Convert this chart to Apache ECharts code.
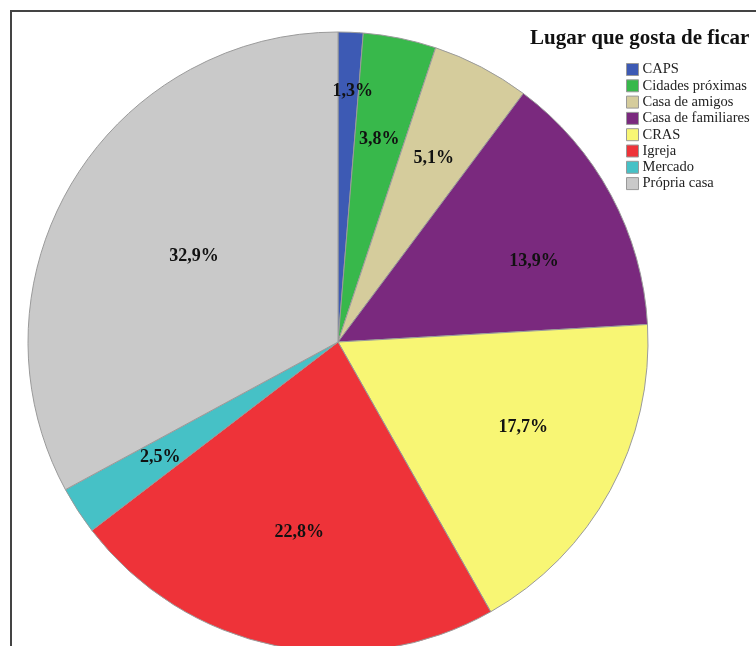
<!DOCTYPE html>
<html lang="pt">
<head>
    <meta charset="UTF-8">
    <title>Lugar que gosta de ficar</title>
</head>
<body style="margin:0;background:#fff">
<div id='main' style="height: 646px;width: 756px"></div>
</body>
<script src="https://cdn.jsdelivr.net/npm/echarts@6/dist/echarts.min.js"></script>
<script>
    var categories = ['CAPS', 'Cidades próximas', 'Casa de amigos', 'Casa de familiares', 'CRAS', 'Igreja', 'Mercado', 'Própria casa'];
    var values = [1.3, 3.8, 5.1, 13.9, 17.7, 22.8, 2.5, 32.9];
    var colors = ['#3d5ab4', '#38b84b', '#d5cc9c', '#7a297e', '#f8f674', '#ee3339', '#46c1c6', '#c9c9c9'];

    var cx = 338, cy = 342;
    // label placement tweaks: radial factor from default r/2 and angle shift (deg)
    var labelScale = [1.59, 1.31, 1.31, 1.34, 1.29, 1.23, 1.34, 1.06];
    var labelShift = [1, 0, 0, 6, -4, 0, 0, 0];

    var myChart = echarts.init(document.getElementById('main'));

    var option = {
        animation: false,
        color: colors,
        title: {
            text: 'Lugar que gosta de ficar',
            left: 525,
            top: 23,
            textStyle: {
                fontFamily: 'Liberation Serif',
                fontSize: 21,
                fontWeight: 'bold',
                color: '#111'
            }
        },
        legend: {
            orient: 'vertical',
            left: 621,
            top: 57,
            itemWidth: 12,
            itemHeight: 12,
            itemGap: 1.3,
            icon: 'rect',
            itemStyle: {borderColor: '#999', borderWidth: 1},
            textStyle: {fontFamily: 'Liberation Serif', fontSize: 14.5, lineHeight: 14, color: '#222', padding: [0, 0, 0, -1]},
            data: categories
        },
        graphic: [{
            type: 'rect',
            shape: {x: 11, y: 11, width: 900, height: 800},
            style: {fill: 'none', stroke: '#444', lineWidth: 2},
            z: 100
        }],
        series: [{
            type: 'pie',
            center: [cx, cy],
            radius: 310,
            startAngle: 90,
            clockwise: true,
            avoidLabelOverlap: false,
            itemStyle: {borderColor: '#9a9a9a', borderWidth: 1},
            label: {
                show: true,
                position: 'inside',
                formatter: function (p) {
                    return p.value.toFixed(1).replace('.', ',') + '%';
                },
                fontFamily: 'Liberation Serif',
                fontSize: 18,
                fontWeight: 'bold',
                color: '#111'
            },
            labelLayout: function (p) {
                var r = p.labelRect;
                var dx = r.x + r.width / 2 - cx, dy = r.y + r.height / 2 - cy;
                var dist = Math.sqrt(dx * dx + dy * dy) * labelScale[p.dataIndex];
                var ang = Math.atan2(dx, -dy) + labelShift[p.dataIndex] * Math.PI / 180;
                return {x: cx + dist * Math.sin(ang), y: cy - dist * Math.cos(ang)};
            },
            data: categories.map(function (c, i) {
                return {name: c, value: values[i]};
            })
        }]
    };
    myChart.setOption(option);
</script>
</html>
